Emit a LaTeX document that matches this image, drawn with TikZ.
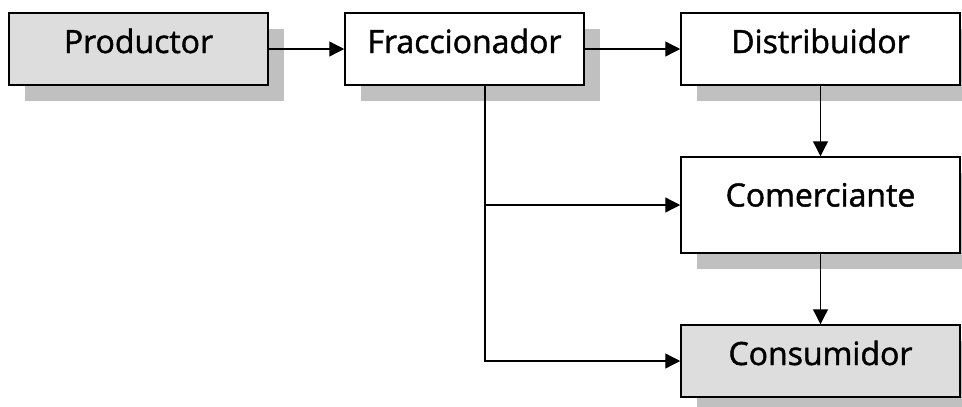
\documentclass[tikz,border=0pt]{standalone}
\usepackage{fontspec}
\setmainfont{Open Sans}
\newfontfamily\boxfont{Open Sans}[FakeBold=1.4]
\usepackage{tikz}
\usetikzlibrary{positioning}
\usetikzlibrary{shadows}
\usetikzlibrary{arrows.meta}
\definecolor{boxgray}{HTML}{DDDDDD}
\definecolor{shadegray}{HTML}{C0C0C0}

\begin{document}
\begin{tikzpicture}
  [
    x=1pt, y=-1pt,
    box/.style={draw=black, line width=1.5pt, fill=white,
      minimum height=72pt, text height=23pt, text depth=15pt,
      font=\boxfont\fontsize{32pt}{38pt}\selectfont,
      general shadow={fill=shadegray, shadow xshift=16pt, shadow yshift=-16pt}},
    flow/.style={draw=black, line width=1.3pt,
      -{Triangle[length=15pt, width=15pt]}}
  ]
  \useasboundingbox (0,0) rectangle (962,407);

  \node (prod) at (138.5, 49) [box, fill=boxgray, minimum width=259pt] {Productor};
  \node (frac) at (464.5, 49) [box, minimum width=239pt] {Fraccionador};
  \node (dist) at (820.5, 49) [box, minimum width=279pt] {Distribuidor};
  \node (com)  at (820.5,205) [box, minimum width=279pt,
                               minimum height=96pt, text depth=20pt] {Comerciante};
  \node (cons) at (820.5,361) [box, fill=boxgray, minimum width=279pt] {Consumidor};

  \draw [flow] (prod) -- (frac);
  \draw [flow] (frac) -- (dist);
  \draw [flow] (dist) -- (com);
  \draw [flow] (com) -- (cons);
  \draw [flow] ([xshift=20.5pt]frac.south) |- (com.west);
  \draw [flow] ([xshift=20.5pt]frac.south) |- (cons.west);
\end{tikzpicture}
\end{document}
